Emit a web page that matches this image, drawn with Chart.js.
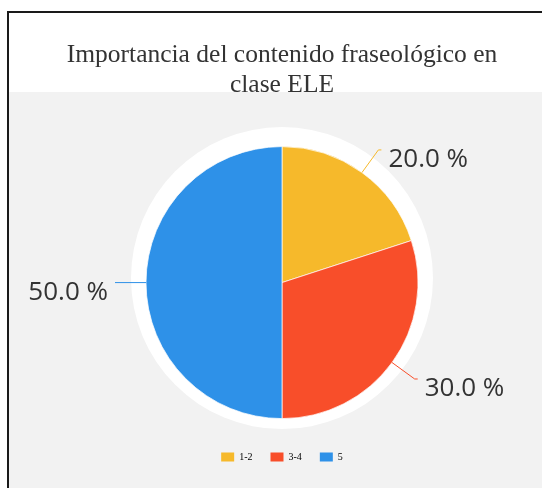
<!DOCTYPE html>
<html>
<head>
<meta charset="utf-8">
<script src="https://cdn.jsdelivr.net/npm/chart.js@4/dist/chart.umd.min.js"></script>
<style>
  html, body { margin: 0; padding: 0; background: #fff; }
  #wrap { position: relative; width: 542px; height: 488px; overflow: hidden; }
  #frame {
    position: absolute; left: 7px; top: 11px; width: 535px; height: 477px;
    border-left: 2px solid #1a1a1a; border-top: 2px solid #1a1a1a;
    background: linear-gradient(to bottom, #ffffff 0px, #ffffff 79px, #f2f2f2 79px, #f2f2f2 100%);
  }
  canvas { position: absolute; left: 0; top: 0; }
</style>
</head>
<body>
<div id="wrap">
  <div id="frame"></div>
  <canvas id="c" width="542" height="488"></canvas>
</div>
<script>
// ---- data ----
const titleLines = ['Importancia del contenido fraseológico en', 'clase ELE'];
const categories = ['1-2', '3-4', '5'];
const values = [20, 30, 50];
const colors = ['#f6b92b', '#f84e2a', '#2e91e8'];

const total = values.reduce((a, b) => a + b, 0);

const outerLabels = {
  id: 'outerLabels',
  beforeDatasetsDraw(chart) {
    const meta = chart.getDatasetMeta(0);
    const a = meta.data[0];
    if (!a) return;
    const ctx = chart.ctx;
    ctx.save();
    ctx.fillStyle = '#ffffff';
    ctx.beginPath();
    ctx.arc(a.x, a.y - 4.5, a.outerRadius + 15, 0, Math.PI * 2);
    ctx.fill();
    ctx.restore();
  },
  afterDatasetsDraw(chart) {
    const meta = chart.getDatasetMeta(0);
    const ctx = chart.ctx;
    ctx.save();
    meta.data.forEach((arc, i) => {
      const mid = (arc.startAngle + arc.endAngle) / 2;
      const c = Math.cos(mid), s = Math.sin(mid);
      const r0 = arc.outerRadius, r1 = arc.outerRadius + 28;
      const x0 = arc.x + c * r0, y0 = arc.y + s * r0;
      const x1 = arc.x + c * r1, y1 = arc.y + s * r1;
      const dir = c >= 0 ? 1 : -1;
      const x2 = x1 + dir * 3;
      ctx.strokeStyle = colors[i];
      ctx.lineWidth = 1;
      ctx.beginPath();
      ctx.moveTo(x0, y0);
      ctx.lineTo(x1, y1);
      ctx.lineTo(x2, y1);
      ctx.stroke();
      ctx.fillStyle = '#333333';
      ctx.font = '26px "Open Sans"';
      ctx.textAlign = dir > 0 ? 'left' : 'right';
      ctx.textBaseline = 'middle';
      const txt = (values[i] / total * 100).toFixed(1) + ' %';
      ctx.fillText(txt, x2 + dir * 7, y1 + 10);
    });
    ctx.restore();
  }
};

new Chart(document.getElementById('c'), {
  type: 'pie',
  data: {
    labels: categories,
    datasets: [{
      data: values,
      backgroundColor: colors,
      borderColor: 'rgba(255,255,255,0.7)',
      borderWidth: 1,
      radius: 136
    }]
  },
  options: {
    responsive: false,
    animation: false,
    devicePixelRatio: 1,
    layout: { padding: { left: 22, right: 0, top: 0, bottom: 16 } },
    plugins: {
      title: {
        display: true,
        text: titleLines,
        color: '#333333',
        font: { family: '"Liberation Serif", serif', size: 25.5, weight: 'normal', lineHeight: 1.18 },
        padding: { top: 40, bottom: 31 }
      },
      legend: {
        position: 'bottom',
        labels: {
          boxWidth: 13,
          boxHeight: 9,
          padding: 18,
          color: '#444444',
          font: { family: '"Liberation Serif", serif', size: 10 },
          generateLabels: () => categories.map((t, i) => ({
            text: t, fillStyle: colors[i], strokeStyle: colors[i], lineWidth: 0, index: i, hidden: false
          }))
        }
      },
      tooltip: { enabled: false }
    }
  },
  plugins: [outerLabels]
});
</script>
</body>
</html>
